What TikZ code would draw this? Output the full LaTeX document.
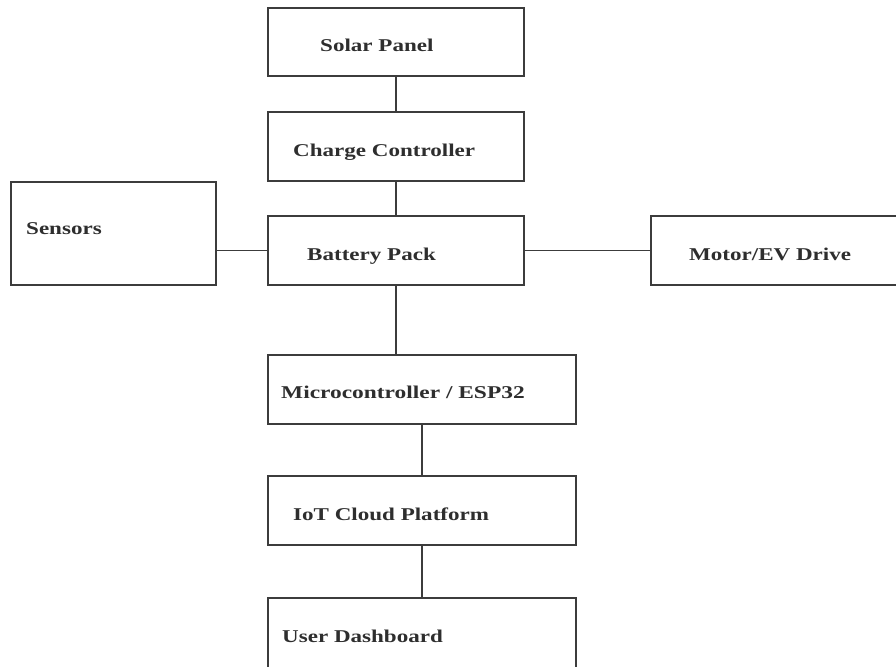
\documentclass[tikz,border=0pt]{standalone}
\usepackage{fontspec}
\setmainfont{Liberation Serif}
\usetikzlibrary{calc}
\definecolor{edge}{HTML}{3C3C3C}
\definecolor{ink}{HTML}{2E2E2E}
\begin{document}
\begin{tikzpicture}[x=1pt,y=-1pt,
  blk/.style={draw=edge,line width=1.3pt,fill=white,rectangle,inner sep=0pt},
  lbl/.style={anchor=base west,inner sep=0pt,text=ink,font=\fontsize{18}{20}\selectfont\bfseries},
  wire/.style={draw=edge,line width=1.3pt}]
\useasboundingbox (0,0) rectangle (896,666);
\clip (0,0) rectangle (896,666);
\fill[white] (0,0) rectangle (896,666);
% boxes
\node[blk,minimum width=256pt,minimum height=68pt] (sp)  at (396,42) {};
\node[blk,minimum width=256pt,minimum height=69pt] (cc)  at (396,146.5) {};
\node[blk,minimum width=205pt,minimum height=103pt] (sen) at (113.5,233.5) {};
\node[blk,minimum width=256pt,minimum height=69pt] (bat) at (396,250.5) {};
\node[blk,minimum width=260pt,minimum height=69pt] (mot) at (781,250.5) {};
\node[blk,minimum width=308pt,minimum height=69pt] (mcu) at (422,389.5) {};
\node[blk,minimum width=308pt,minimum height=69pt] (iot) at (422,510.5) {};
\node[blk,minimum width=308pt,minimum height=74pt] (ud)  at (422,635) {};
% labels
\node[lbl] (tsp)  at (320,51.5)  {\scalebox{1.28}[1]{Solar Panel}};
\node[lbl] (tcc)  at (293,157)   {\scalebox{1.28}[1]{Charge Controller}};
\node[lbl] (tsen) at (26,234)    {\scalebox{1.28}[1]{Sensors}};
\node[lbl] (tbat) at (307,260)   {\scalebox{1.28}[1]{Battery Pack}};
\node[lbl] (tmot) at (689,260)   {\scalebox{1.28}[1]{Motor/EV Drive}};
\node[lbl] (tmcu) at (281,398)   {\scalebox{1.3}[1]{Microcontroller / ESP32}};
\node[lbl] (tiot) at (293,520)   {\scalebox{1.28}[1]{IoT Cloud Platform}};
\node[lbl] (tud)  at (282,642)   {\scalebox{1.28}[1]{User Dashboard}};
% connectors
\draw[wire] (sp.south) -- (cc.north);
\draw[wire] (cc.south) -- (bat.north);
\draw[wire] (bat.west) -- (bat.west -| sen.east);
\draw[wire] (bat.east) -- (mot.west);
\draw[wire] (bat.south) -- (bat.south |- mcu.north);
\draw[wire] (mcu.south) -- (iot.north);
\draw[wire] (iot.south) -- (ud.north);
\end{tikzpicture}
\end{document}
